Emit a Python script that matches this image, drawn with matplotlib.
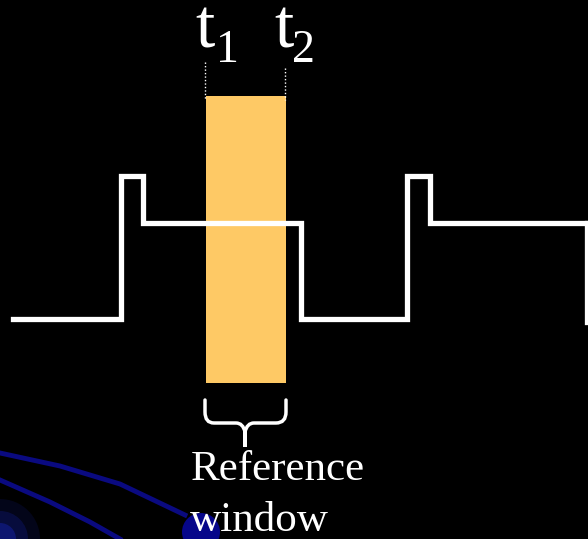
import numpy as np
import matplotlib.pyplot as plt
from matplotlib.path import Path
from matplotlib.patches import PathPatch, Rectangle, Circle

W, H = 588, 539

# forma de onda (coordenadas en pixeles de la imagen, y hacia abajo)
onda_x = [13, 121, 121, 143, 143, 301, 301, 407, 407, 430, 430, 588]
onda_y = [319, 319, 176, 176, 223, 223, 319, 319, 176, 176, 223, 223]
onda2_x = [587, 587]
onda2_y = [223, 322]

# ventana de referencia
t1, t2 = 206, 286
ventana_y = [96, 383]

fig = plt.figure(figsize=(W/100, H/100), dpi=100)
fig.patch.set_facecolor('black')
ax = fig.add_axes([0, 0, 1, 1])
ax.set_facecolor('black')
ax.set_xlim(0, W)
ax.set_ylim(H, 0)
ax.axis('off')

# decoracion azul abajo a la izquierda
for r, a in [(40, 0.12), (28, 0.2), (16, 0.35)]:
    ax.add_patch(Circle((0, 539), r, color='#1a2ad0', alpha=a, lw=0))
ax.plot([0, 60, 120, 185], [453, 466, 484, 515], color='#0a0a80', lw=3.5)
ax.plot([0, 50, 90, 120], [480, 502, 522, 539], color='#0a0a80', lw=3.5)
ax.add_patch(Circle((201, 532), 19, color='#06068a', lw=0))

ax.add_patch(Rectangle((t1, ventana_y[0]), t2 - t1, ventana_y[1] - ventana_y[0],
                       color='#fec965', lw=0, zorder=2))

ax.plot(onda_x, onda_y, color='white', lw=3.8, zorder=3, solid_joinstyle='miter')
ax.plot(onda2_x, onda2_y, color='white', lw=3.8, zorder=3)

ax.plot([205, 205], [62, 100], color='white', lw=1, ls=(0, (1, 1.5)), zorder=4)
ax.plot([285, 285], [68, 100], color='white', lw=1, ls=(0, (1, 1.5)), zorder=4)

fuente = 'Liberation Serif'
ax.text(195, 47, 't', color='white', fontsize=50, family=fuente, va='baseline')
ax.text(216, 62, '1', color='white', fontsize=33, family=fuente, va='baseline')
ax.text(274, 47, 't', color='white', fontsize=50, family=fuente, va='baseline')
ax.text(292, 62, '2', color='white', fontsize=33, family=fuente, va='baseline')

# llave
verts = [(205, 400), (205, 412), (205, 423), (214, 423),
         (236, 423), (243, 423), (245, 432), (245, 447),
         (245, 432), (247, 423), (254, 423),
         (276, 423), (286, 423), (286, 412), (286, 400)]
codes = [Path.MOVETO, Path.LINETO, Path.CURVE3, Path.CURVE3,
         Path.LINETO, Path.CURVE3, Path.CURVE3, Path.LINETO,
         Path.LINETO, Path.CURVE3, Path.CURVE3,
         Path.LINETO, Path.CURVE3, Path.CURVE3, Path.LINETO]
ax.add_patch(PathPatch(Path(verts, codes), fill=False, ec='white', lw=2.5,
                       capstyle='round', zorder=4))

ax.text(278, 480, 'Reference', color='white', fontsize=31, family=fuente,
        ha='center', va='baseline')
ax.text(259, 531, 'window', color='white', fontsize=31, family=fuente,
        ha='center', va='baseline')

fig.savefig('out.png', dpi=100, facecolor='black')
